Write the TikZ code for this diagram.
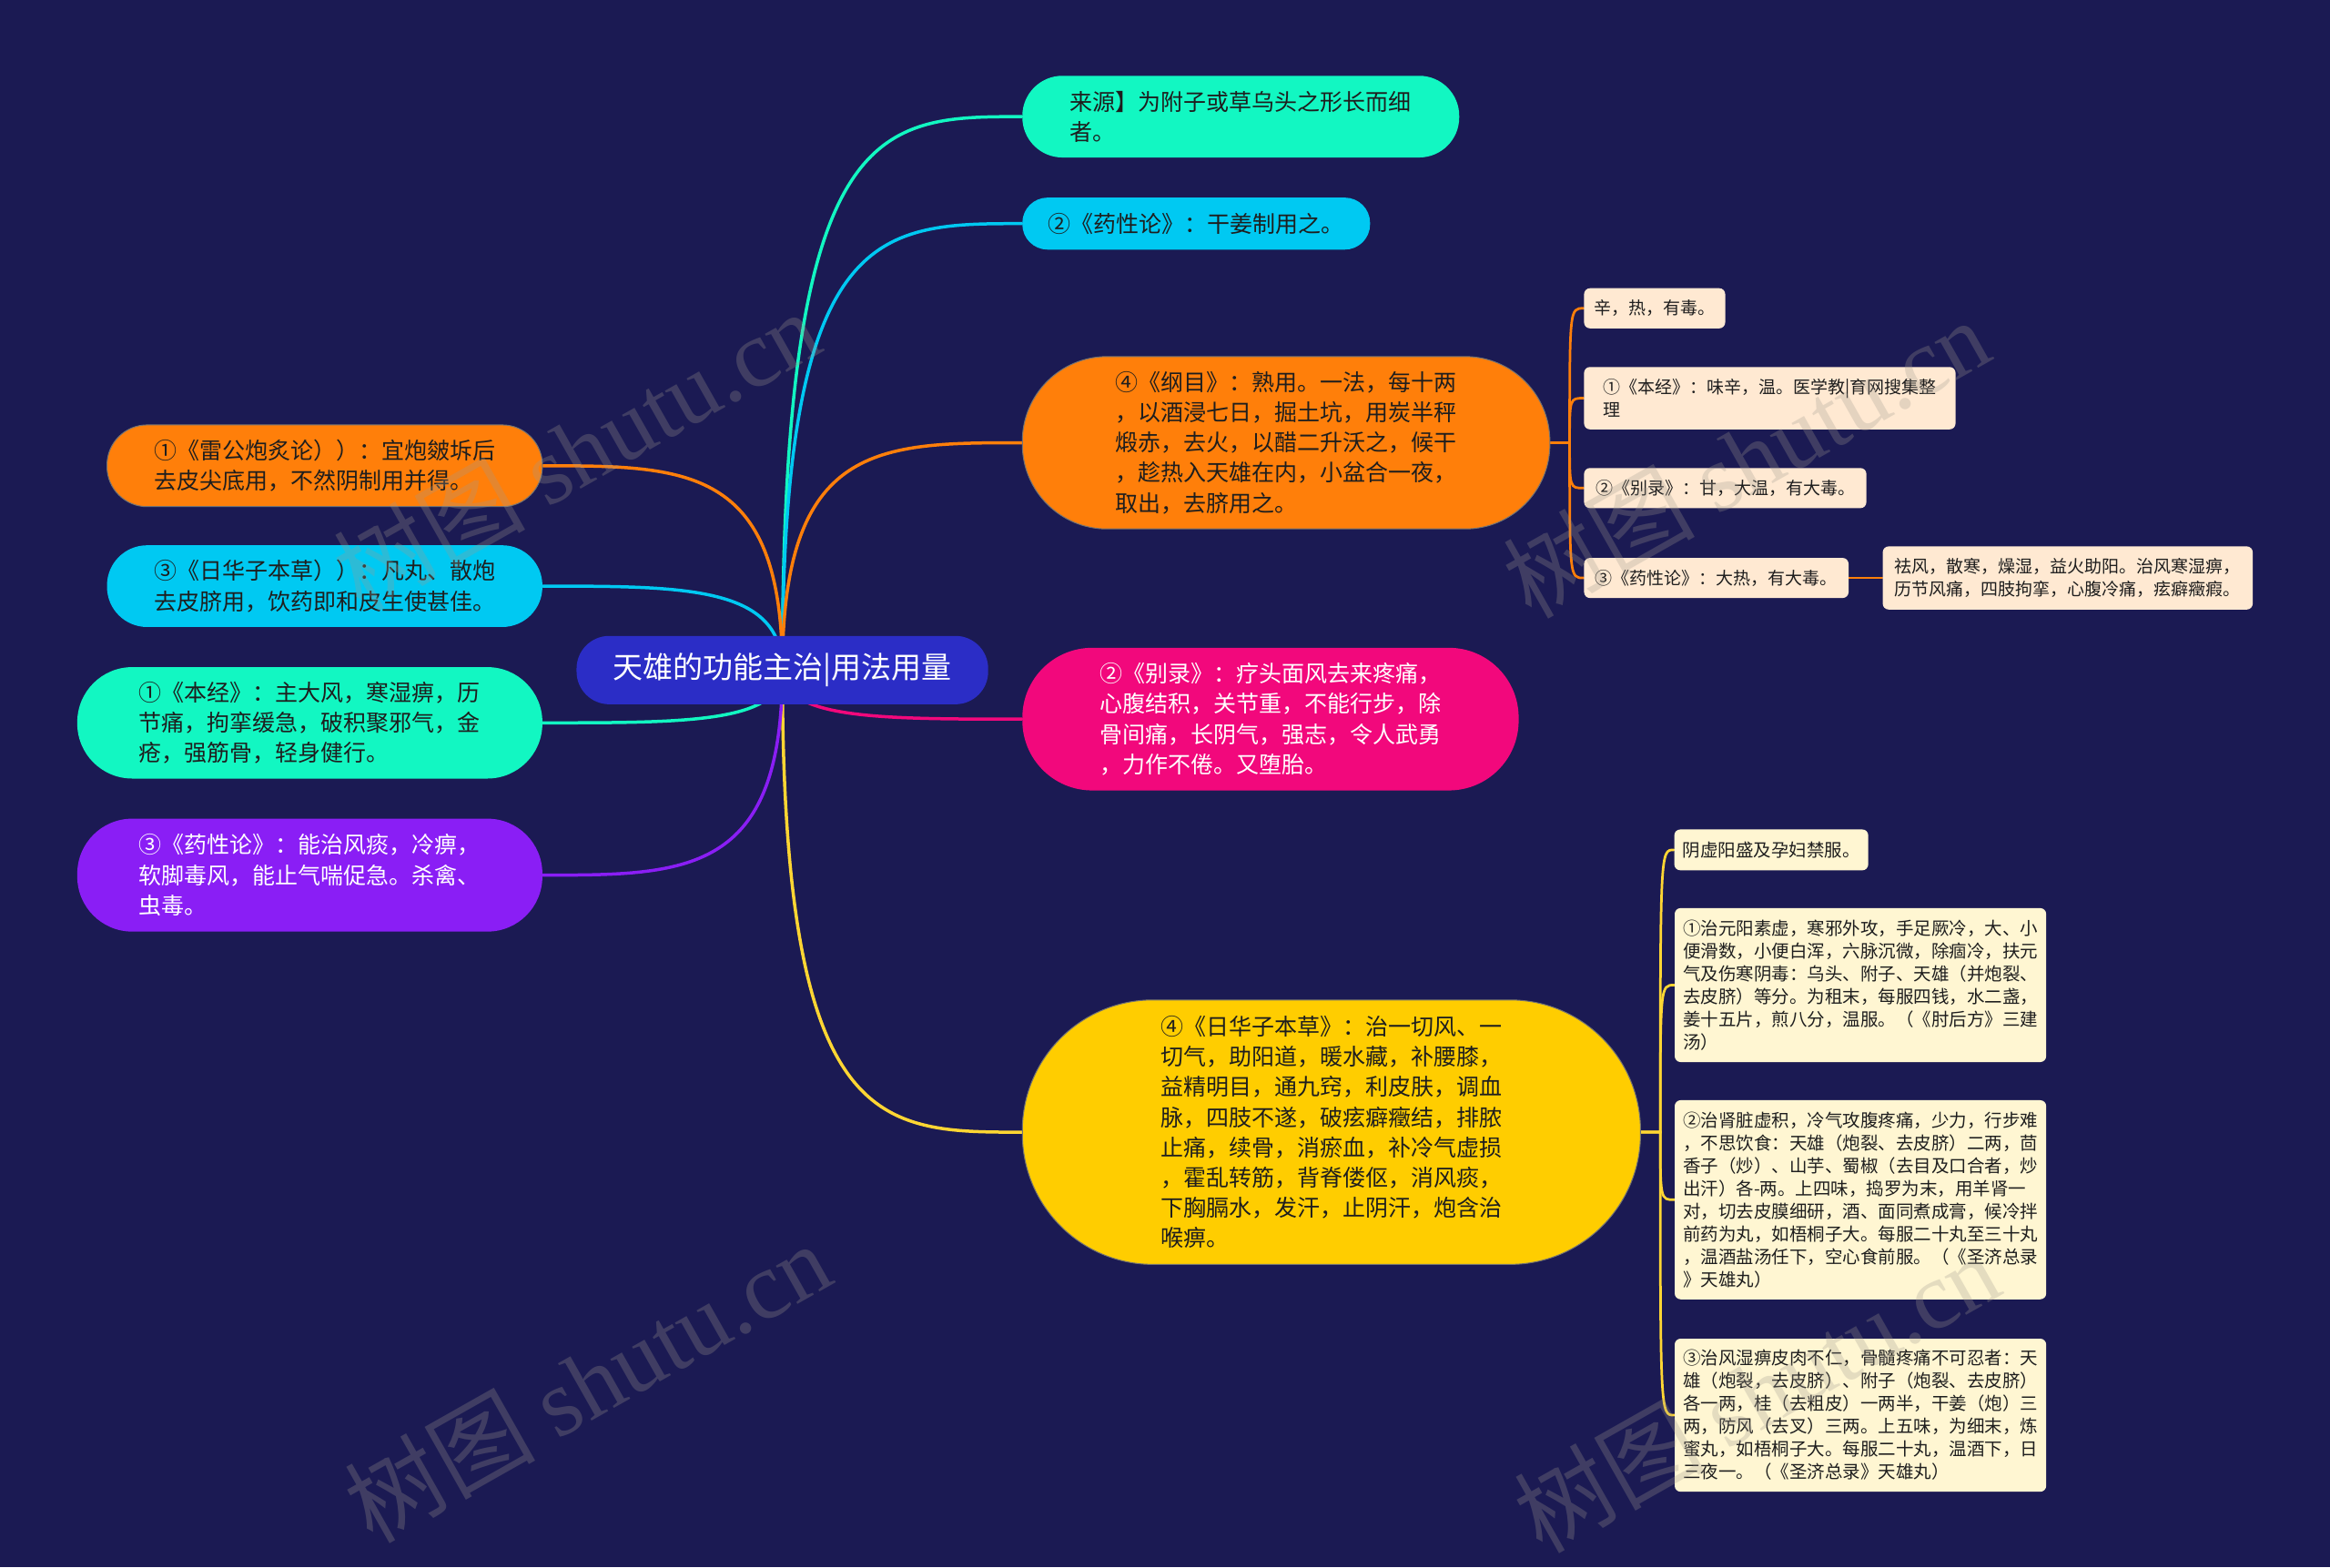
\documentclass[tikz,border=0pt]{standalone}
\usepackage{fontspec}
\setmainfont{Noto Sans CJK SC}
\newfontfamily\wmfont{Liberation Serif}
\usetikzlibrary{calc}
\pgfdeclarelayer{backlayer}
\pgfdeclarelayer{edgelayer}
\pgfsetlayers{backlayer,edgelayer,main}
\definecolor{bg}{HTML}{1B1A53}
\definecolor{cRoot}{HTML}{2B2DC6}
\definecolor{cMint}{HTML}{12F7C2}
\definecolor{cCyan}{HTML}{00C9F2}
\definecolor{cOrange}{HTML}{FF7F0A}
\definecolor{cPink}{HTML}{F2087C}
\definecolor{cYellow}{HTML}{FFCD00}
\definecolor{cYellowLine}{HTML}{FFD633}
\definecolor{cPurple}{HTML}{8A1EF5}
\definecolor{cPeach}{HTML}{FFE9D2}
\definecolor{cCream}{HTML}{FFF6D2}
\definecolor{txtdark}{HTML}{1E1E1E}
\definecolor{wmgray}{HTML}{A09A90}
\def\pxu{0.6531pt}
\tikzset{
  pill/.style={inner sep=0pt, align=left, text=txtdark, font=\fontsize{10pt}{13.26pt}\selectfont},
  leafA/.style={inner sep=0pt, align=left, text=txtdark, fill=cPeach, rounded corners=4*\pxu, font=\fontsize{7.6pt}{9.9pt}\selectfont},
  leafB/.style={inner sep=0pt, align=left, text=txtdark, fill=cCream, rounded corners=4*\pxu, font=\fontsize{7.8pt}{10pt}\selectfont},
  edge/.style={line width=1.4pt, line cap=round},
  subedge/.style={line width=1.1pt, line cap=round},
  wm/.style={text=wmgray, opacity=0.28, font=\fontsize{42pt}{42pt}\selectfont, rotate=29.5, inner sep=0pt}
}
\begin{document}
\begin{tikzpicture}[x=0.6531pt,y=-0.6531pt]
\begin{pgfonlayer}{backlayer}
\fill[bg] (0,0) rectangle (1568,1055);
\end{pgfonlayer}
\useasboundingbox (0,0) rectangle (1568,1055);

% ---------- root ----------
\node[pill, fill=cRoot, text=white, minimum width=277*\pxu, minimum height=46*\pxu, rounded corners=22*\pxu, font=\fontsize{13.2pt}{16pt}\selectfont] (root) at (526.5,451) {天雄的功能主治|用法用量};

% ---------- right side ----------
\node[pill, fill=cMint, minimum width=294*\pxu, minimum height=55*\pxu, rounded corners=27*\pxu] (r1) at (835,78.5) {来源】为附子或草乌头之形长而细\\者。};
\node[pill, fill=cCyan, minimum width=234*\pxu, minimum height=35*\pxu, rounded corners=17*\pxu] (r2) at (805,150.5) {②《药性论》：干姜制用之。};
\node[pill, fill=cOrange, draw=black!55, line width=0.4pt, minimum width=355*\pxu, minimum height=116*\pxu, rounded corners=57*\pxu] (r3) at (865.5,298) {④《纲目》：熟用。一法，每十两\\，以酒浸七日，掘土坑，用炭半秤\\煅赤，去火，以醋二升沃之，候干\\，趁热入天雄在内，小盆合一夜，\\取出，去脐用之。};
\node[pill, fill=cPink, text=white, minimum width=334*\pxu, minimum height=96*\pxu, rounded corners=47*\pxu] (r4) at (855,484) {②《别录》：疗头面风去来疼痛，\\心腹结积，关节重，不能行步，除\\骨间痛，长阴气，强志，令人武勇\\，力作不倦。又堕胎。};
\node[pill, fill=cYellow, draw=black!55, line width=0.4pt, minimum width=416*\pxu, minimum height=178*\pxu, rounded corners=88*\pxu] (r5) at (896,762) {④《日华子本草》：治一切风、一\\切气，助阳道，暖水藏，补腰膝，\\益精明目，通九窍，利皮肤，调血\\脉，四肢不遂，破痃癖癥结，排脓\\止痛，续骨，消瘀血，补冷气虚损\\，霍乱转筋，背脊偻伛，消风痰，\\下胸膈水，发汗，止阴汗，炮含治\\喉痹。};

% ---------- left side ----------
\node[pill, fill=cOrange, draw=black!55, line width=0.4pt, minimum width=293*\pxu, minimum height=55*\pxu, rounded corners=27*\pxu] (l1) at (218.5,313.5) {①《雷公炮炙论））：宜炮皴坼后\\去皮尖底用，不然阴制用并得。};
\node[pill, fill=cCyan, minimum width=293*\pxu, minimum height=55*\pxu, rounded corners=27*\pxu] (l2) at (218.5,394.5) {③《日华子本草））：凡丸、散炮\\去皮脐用，饮药即和皮生使甚佳。};
\node[pill, fill=cMint, minimum width=313*\pxu, minimum height=75*\pxu, rounded corners=37*\pxu] (l3) at (208.5,486.5) {①《本经》：主大风，寒湿痹，历\\节痛，拘挛缓急，破积聚邪气，金\\疮，强筋骨，轻身健行。};
\node[pill, fill=cPurple, text=white, minimum width=313*\pxu, minimum height=76*\pxu, rounded corners=37*\pxu] (l4) at (208.5,589) {③《药性论》：能治风痰，冷痹，\\软脚毒风，能止气喘促急。杀禽、\\虫毒。};

% ---------- leaves of r3 ----------
\node[leafA, minimum width=95*\pxu, minimum height=27*\pxu] (a) at (1113.5,207.5) {辛，热，有毒。};
\node[leafA, minimum width=250*\pxu, minimum height=42*\pxu] (b) at (1191,268) {①《本经》：味辛，温。医学教|育网搜集整\\理};
\node[leafA, minimum width=190*\pxu, minimum height=27*\pxu] (c) at (1161,328.5) {②《别录》：甘，大温，有大毒。};
\node[leafA, minimum width=178*\pxu, minimum height=27*\pxu] (d) at (1155,389) {③《药性论》：大热，有大毒。};
\node[leafA, minimum width=249*\pxu, minimum height=42.5*\pxu] (e) at (1391.5,389) {祛风，散寒，燥湿，益火助阳。治风寒湿痹，\\历节风痛，四肢拘挛，心腹冷痛，痃癖癥瘕。};

% ---------- leaves of r5 ----------
\node[leafB, minimum width=130.5*\pxu, minimum height=27.5*\pxu] (f) at (1192,572) {阴虚阳盛及孕妇禁服。};
\node[leafB, minimum width=250*\pxu, minimum height=103.6*\pxu] (g) at (1252,663) {①治元阳素虚，寒邪外攻，手足厥冷，大、小\\便滑数，小便白浑，六脉沉微，除痼冷，扶元\\气及伤寒阴毒：乌头、附子、天雄（并炮裂、\\去皮脐）等分。为租末，每服四钱，水二盏，\\姜十五片，煎八分，温服。（《肘后方》三建\\汤）};
\node[leafB, minimum width=250*\pxu, minimum height=134*\pxu] (h) at (1252,807.5) {②治肾脏虚积，冷气攻腹疼痛，少力，行步难\\，不思饮食：天雄（炮裂、去皮脐）二两，茴\\香子（炒）、山芋、蜀椒（去目及口合者，炒\\出汗）各-两。上四味，捣罗为末，用羊肾一\\对，切去皮膜细研，酒、面同煮成膏，候冷拌\\前药为丸，如梧桐子大。每服二十丸至三十丸\\，温酒盐汤任下，空心食前服。（《圣济总录\\》天雄丸）};
\node[leafB, minimum width=250*\pxu, minimum height=103*\pxu] (i) at (1252,952.5) {③治风湿痹皮肉不仁，骨髓疼痛不可忍者：天\\雄（炮裂，去皮脐）、附子（炮裂、去皮脐）\\各一两，桂（去粗皮）一两半，干姜（炮）三\\两，防风（去叉）三两。上五味，为细末，炼\\蜜丸，如梧桐子大。每服二十丸，温酒下，日\\三夜一。（《圣济总录》天雄丸）};

% ---------- connectors (behind nodes) ----------
\begin{pgfonlayer}{edgelayer}
\draw[edge,cMint]   (root.center) .. controls (root.center |- r1.west) and ($(root.center |- r1.west)!0.4!(r1.west)$) .. (r1.west);
\draw[edge,cCyan]   (root.center) .. controls (root.center |- r2.west) and ($(root.center |- r2.west)!0.4!(r2.west)$) .. (r2.west);
\draw[edge,cOrange] (root.center) .. controls (root.center |- r3.west) and ($(root.center |- r3.west)!0.4!(r3.west)$) .. (r3.west);
\draw[edge,cPink]   (root.center) .. controls (root.center |- r4.west) and ($(root.center |- r4.west)!0.4!(r4.west)$) .. (r4.west);
\draw[edge,cYellowLine] (root.center) .. controls (root.center |- r5.west) and ($(root.center |- r5.west)!0.4!(r5.west)$) .. (r5.west);
\draw[edge,cOrange] (root.center) .. controls (root.center |- l1.east) and ($(root.center |- l1.east)!0.4!(l1.east)$) .. (l1.east);
\draw[edge,cCyan]   (root.center) .. controls (root.center |- l2.east) and ($(root.center |- l2.east)!0.4!(l2.east)$) .. (l2.east);
\draw[edge,cMint]   (root.center) .. controls (root.center |- l3.east) and ($(root.center |- l3.east)!0.4!(l3.east)$) .. (l3.east);
\draw[edge,cPurple] (root.center) .. controls (root.center |- l4.east) and ($(root.center |- l4.east)!0.4!(l4.east)$) .. (l4.east);

\coordinate (t3) at ($(r3.east)+(13,0)$);
\foreach \k in {a,b,c,d}{
  \draw[subedge,cOrange] (r3.east) -- (t3) .. controls (t3 |- \k.west) .. (\k.west);
}
\draw[subedge,cOrange] (d.east) -- (e.west);

\coordinate (t5) at ($(r5.east)+(13,0)$);
\foreach \k in {f,g,h,i}{
  \draw[subedge,cYellowLine] (r5.east) -- (t5) .. controls (t5 |- \k.west) .. (\k.west);
}
\end{pgfonlayer}

% ---------- watermarks ----------
\node[wm] (w1) at (388,303) {树图 {\wmfont shutu.cn}};
\node[wm] (w2) at (1175,308) {树图 {\wmfont shutu.cn}};
\node[wm] (w3) at (395,930) {树图 {\wmfont shutu.cn}};
\node[wm] (w4) at (1182,937) {树图 {\wmfont shutu.cn}};
\end{tikzpicture}
\end{document}
